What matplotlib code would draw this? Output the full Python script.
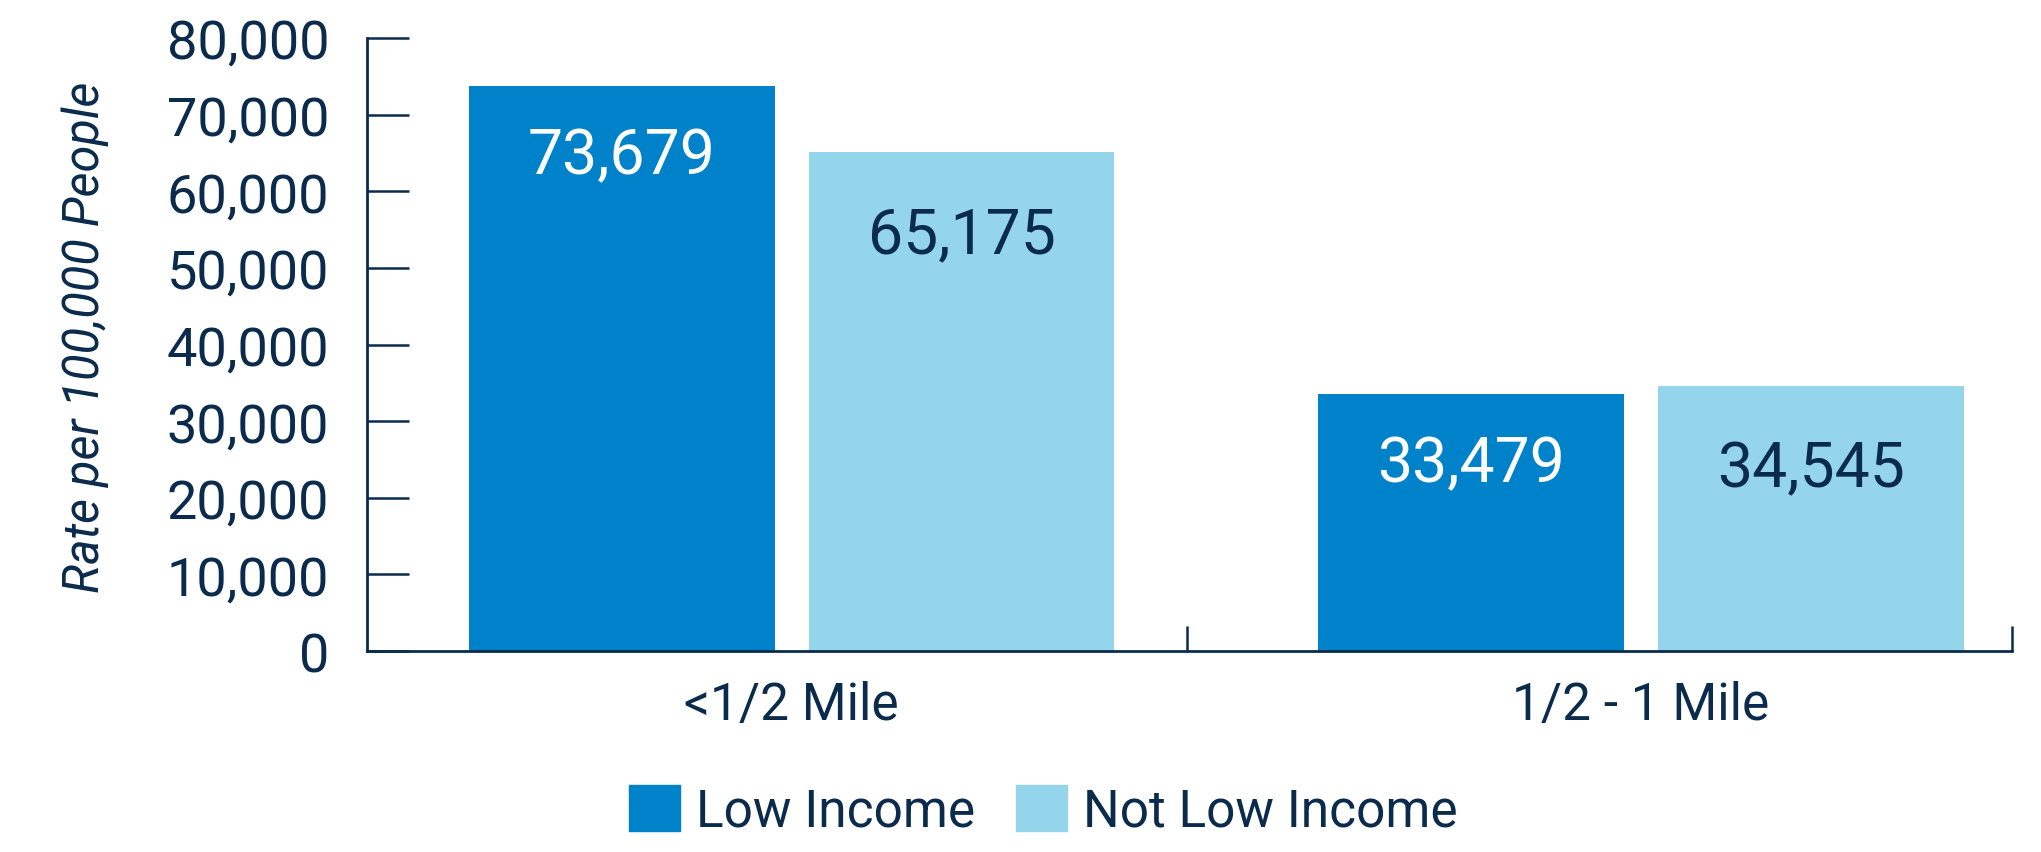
import matplotlib
matplotlib.use("Agg")
from matplotlib import pyplot as plt
from matplotlib.patches import Patch

# data
categories = ["<1/2 Mile", "1/2 - 1 Mile"]
low_income = [73679, 33479]
not_low_income = [65175, 34545]
series_names = ["Low Income", "Not Low Income"]
y_ticks = [0, 10000, 20000, 30000, 40000, 50000, 60000, 70000, 80000]

dark_blue = "#0082CA"
light_blue = "#94D5EB"
navy = "#0B2B4C"

plt.rcParams["font.family"] = ["Roboto", "DejaVu Sans"]

fig = plt.figure(figsize=(20.41, 8.53), dpi=100)
ax = fig.add_axes([0.1798, 0.2356, 0.8060, 0.7187])

x = list(range(len(categories)))
width = 0.36
offset = 0.2

bars_low = ax.bar([i - offset for i in x], low_income, width, color=dark_blue)
bars_not = ax.bar([i + offset for i in x], not_low_income, width, color=light_blue)

# value labels just under the bar tops
for bar, val in zip(bars_low, low_income):
    ax.annotate(f"{val:,}", (bar.get_x() + bar.get_width() / 2, val),
                xytext=(0, -50), textcoords="offset points",
                ha="center", va="center", fontsize=45, color="white")
for bar, val in zip(bars_not, not_low_income):
    ax.annotate(f"{val:,}", (bar.get_x() + bar.get_width() / 2, val),
                xytext=(0, -60), textcoords="offset points",
                ha="center", va="center", fontsize=45, color=navy)

ax.set_xlim(-0.5, 1.437)
ax.set_ylim(0, 80000)
ax.set_yticks(y_ticks)
ax.set_yticklabels([f"{t:,}" for t in y_ticks])
ax.set_xticks(x)
ax.set_xticklabels(categories)
ax.set_xticks([0.466, 1.437], minor=True)

ax.tick_params(axis="y", direction="in", length=30, width=1.8, color=navy,
               labelsize=39, labelcolor=navy, pad=27)
ax.tick_params(axis="x", which="major", length=0, labelsize=37,
               labelcolor=navy, pad=21)
ax.tick_params(axis="x", which="minor", direction="in", length=18,
               width=1.8, color=navy)

for side in ["top", "right"]:
    ax.spines[side].set_visible(False)
for side in ["left", "bottom"]:
    ax.spines[side].set_color(navy)
    ax.spines[side].set_linewidth(2)

ax.set_ylabel("Rate per 100,000 People", fontsize=35, style="italic",
              color=navy, labelpad=42)
ax.yaxis.label.set_y(0.513)

handles = [Patch(color=dark_blue), Patch(color=light_blue)]
fig.legend(handles, series_names, loc="center", bbox_to_anchor=(0.511, 0.048),
           ncol=2, frameon=False, fontsize=37, labelcolor=navy,
           handlelength=1.0, handleheight=1.0, handletextpad=0.3,
           columnspacing=0.8)

plt.savefig("out.png", dpi=100)
